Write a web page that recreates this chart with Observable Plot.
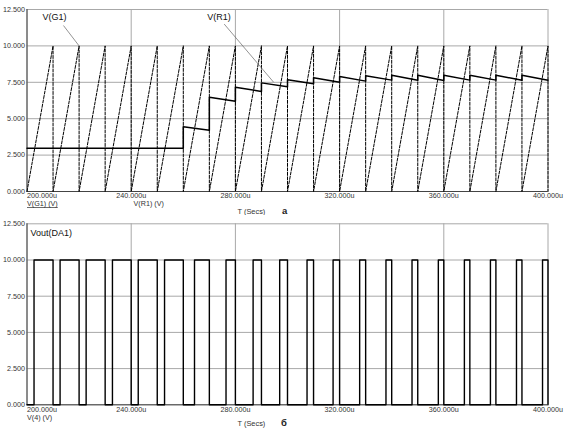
<!DOCTYPE html>
<html><head><meta charset="utf-8">
<script src="https://cdn.jsdelivr.net/npm/d3@7"></script>
<script src="https://cdn.jsdelivr.net/npm/@observablehq/plot@0.6"></script>
<style>
body{margin:0;background:#fff;}
#chart svg{display:block;}
</style></head><body><div id="chart"></div>
<script>
// ---- data ----
const xTicks = [200, 240, 280, 320, 360, 400];
const yTicks = [0, 2.5, 5, 7.5, 10, 12.5];
// V(G1): sawtooth peaks (instant drop to 0 after each peak)
const sawPeakTimes = [210,220,230,240,250,260,270,280,290,300,310,320,330,340,350,360,370,380,390,400];
const sawPeakValue = 10;
// V(R1): segments (start time, end time, start value, end value)
const r1SegStart = [200,260,270,280,290,300,310,320,330,340,350,360,370,380,390];
const r1SegEnd   = [260,270,280,290,300,310,320,330,340,350,360,370,380,390,400];
const r1ValStart = [2.97,4.45,6.48,7.16,7.46,7.67,7.81,7.90,7.95,7.99,7.99,7.99,7.99,7.99,7.99];
const r1ValEnd   = [2.97,4.20,6.20,6.87,7.19,7.40,7.51,7.58,7.65,7.64,7.63,7.65,7.65,7.64,7.64];
// Vout(DA1): rising and falling edges (0 <-> 10)
const voutRise = [202.7,212.7,222.7,232.8,242.7,252.8,264.3,276.4,286.8,297.0,307.5,317.5,327.7,337.8,347.8,357.9,367.9,377.9,387.9,397.9];
const voutFall = [210,220,230,240,250,260,270,280,290,300,310,320,330,340,350,360,370,380,390,400];
const voutHigh = 10;

// ---- build series ----
const saw = [{t: 200, v: 0}];
sawPeakTimes.forEach(p => { saw.push({t: p, v: sawPeakValue}); saw.push({t: p, v: 0}); });
const r1 = [];
r1SegStart.forEach((s, i) => { r1.push({t: s, v: r1ValStart[i]}); r1.push({t: r1SegEnd[i], v: r1ValEnd[i]}); });
const vout = [{t: 200, v: 0}];
voutRise.forEach((r, i) => {
  vout.push({t: r, v: 0}); vout.push({t: r, v: voutHigh});
  vout.push({t: voutFall[i], v: voutHigh}); vout.push({t: voutFall[i], v: 0});
});

const FONT = "'Liberation Sans', Arial, sans-serif";
const fmtY = d3.format(".3f");
const fmtX = d => d.toFixed(3) + "u";

function frame(opts) {
  return [
    Plot.gridY(yTicks, {stroke: "#a8a8a8", strokeOpacity: 1, strokeWidth: 1}),
    Plot.gridX(xTicks, {stroke: "#a8a8a8", strokeOpacity: 1, strokeWidth: 1}),
    Plot.axisY(yTicks, {tickSize: 0, tickPadding: 2, tickFormat: fmtY, label: null, fill: "#333"}),
    Plot.axisX(xTicks.slice(1), {tickSize: 0, tickPadding: opts.tickPad, tickFormat: fmtX, label: null, fill: "#333"}),
    Plot.text([xTicks[0]], {x: d => d, text: d => fmtX(d), frameAnchor: "bottom", textAnchor: "start", lineAnchor: "top", dy: opts.tickPad, fill: "#333"}),
    Plot.ruleY([0], {stroke: "#444", strokeWidth: 1}),
    Plot.ruleX([200], {stroke: "#444", strokeWidth: 1})
  ];
}

const p1 = Plot.plot({
  width: 568, height: 215,
  marginLeft: 26.5, marginRight: 20.5, marginTop: 9, marginBottom: 24,
  x: {domain: [200, 400]}, y: {domain: [0, 12.5]},
  style: {fontFamily: FONT, fontSize: "7.2px", color: "#333", background: "#fff"},
  marks: [
    ...frame({tickPad: 1}),
    Plot.line(saw, {x: "t", y: "v", stroke: "#000", strokeWidth: 1, strokeDasharray: "3,1.5"}),
    Plot.line(r1, {x: "t", y: "v", stroke: "#000", strokeWidth: 1.5}),
    Plot.link([{x1: 214.0, y1: 11.4, x2: 220, y2: 10}, {x1: 275.7, y1: 11.5, x2: 294.7, y2: 7.5}],
      {x1: "x1", y1: "y1", x2: "x2", y2: "y2", stroke: "#666", strokeWidth: 0.7}),
    Plot.text([{x: 210.6, y: 11.95, s: "V(G1)"}, {x: 273.7, y: 11.95, s: "V(R1)"}],
      {x: "x", y: "y", text: "s", fontSize: 9, fill: "#111"}),
    Plot.text(["V(G1) (V)"], {text: d => d, frameAnchor: "bottom-left", textAnchor: "start", dy: 14.5, fill: "#333", className: "underl"}),
    Plot.text(["V(R1) (V)"], {text: d => d, frameAnchor: "bottom-left", textAnchor: "start", dx: 106.5, dy: 14.5, fill: "#333"}),
    Plot.text(["T (Secs)"], {text: d => d, frameAnchor: "bottom-left", textAnchor: "start", dx: 210.5, dy: 22.5, fontSize: 7.4, fill: "#333"}),
    Plot.text(["а"], {text: d => d, frameAnchor: "bottom-left", textAnchor: "start", dx: 255, dy: 22.5, fontSize: 9.5, fontWeight: "bold", fill: "#222"})
  ]
});

const p2 = Plot.plot({
  width: 568, height: 220,
  marginLeft: 26.5, marginRight: 20.5, marginTop: 8.3, marginBottom: 30.7,
  x: {domain: [200, 400]}, y: {domain: [0, 12.5]},
  style: {fontFamily: FONT, fontSize: "7.2px", color: "#333", background: "#fff"},
  marks: [
    ...frame({tickPad: 2}),
    Plot.line(vout, {x: "t", y: "v", stroke: "#000", strokeWidth: 1.4}),
    Plot.text([{x: 201.3, y: 11.83, s: "Vout(DA1)"}], {x: "x", y: "y", text: "s", textAnchor: "start", fontSize: 9, fill: "#111"}),
    Plot.text(["V(4) (V)"], {text: d => d, frameAnchor: "bottom-left", textAnchor: "start", dy: 15.5, fill: "#333"}),
    Plot.text(["T (Secs)"], {text: d => d, frameAnchor: "bottom-left", textAnchor: "start", dx: 210.5, dy: 21.5, fontSize: 7.4, fill: "#333"}),
    Plot.text(["б"], {text: d => d, frameAnchor: "bottom-left", textAnchor: "start", dx: 254, dy: 21.5, fontSize: 9.5, fontWeight: "bold", fill: "#222"})
  ]
});

const host = document.getElementById("chart");
host.appendChild(p1);
host.appendChild(p2);
d3.select(p1).selectAll("g.underl text").attr("text-decoration", "underline");
</script>
</body></html>
